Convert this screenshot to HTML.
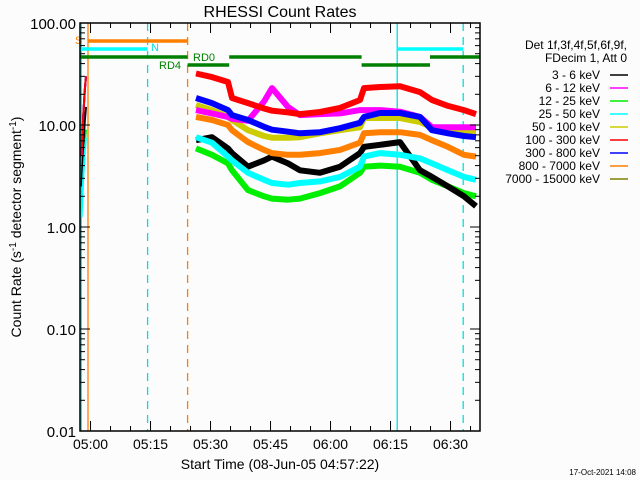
<!DOCTYPE html>
<html><head><meta charset="utf-8"><style>
html,body{margin:0;padding:0;background:#fcfcfc;}
svg{display:block;font-family:"Liberation Sans",sans-serif;}
</style></head><body>
<svg id="chart" width="640" height="480" viewBox="0 0 640 480">
<rect width="640" height="480" fill="#fcfcfc"/>
<text x="280" y="17" font-size="16" text-anchor="middle">RHESSI Count Rates</text>
<g id="marks"></g>
<g id="axes"></g>
<text x="280" y="469" font-size="14" text-anchor="middle">Start Time (08-Jun-05 04:57:22)</text>
<text transform="translate(21,227) rotate(-90)" font-size="14" text-anchor="middle">Count Rate (s<tspan dy="-5" font-size="10">-1</tspan><tspan dy="5"> detector segment</tspan><tspan dy="-5" font-size="10">-1</tspan><tspan dy="5">)</tspan></text>
<g id="legend"></g>
<text x="636" y="475" font-size="8" text-anchor="end">17-Oct-2021 14:08</text>
</svg>
<script>
const times = [29,33,37,38,42,46,48,52,55,60,65,70,71,75,80,85,88,92,96,99];
const seriesNames = ["3 - 6 keV","6 - 12 keV","12 - 25 keV","25 - 50 keV","50 - 100 keV","100 - 300 keV","300 - 800 keV","800 - 7000 keV","7000 - 15000 keV"];
const seriesColors = ["#000000","#ff00ff","#00ee00","#00ffff","#cccc00","#ff0000","#0000ff","#ff8000","#808000"];
const black = [7.1,7.6,5.9,5.3,3.9,4.5,4.9,4.2,3.6,3.4,3.9,5.3,6.1,6.4,6.8,3.6,3.1,2.5,2.0,1.6];
const magenta = [14,13,12,11.5,11,17,23,15,12.5,12.8,13,14,14,14,13.5,12,9.5,9.5,9.5,9.5];
const green = [5.9,5.1,4.2,3.6,2.3,2.0,1.9,1.85,1.9,2.15,2.5,3.4,3.9,4.0,3.9,3.4,2.9,2.5,2.15,2.0];
const cyan = [7.6,6.7,4.9,4.5,3.4,2.9,2.7,2.6,2.7,2.8,3.1,3.9,4.9,5.3,5.1,4.7,4.2,3.6,3.1,2.9];
const yellow = [15.7,14,12,11.2,8.9,7.8,7.5,7.5,7.6,8.3,8.9,9.5,11.7,11.7,11.7,10.7,9.5,8.9,8.5,8.5];
const red = [32,29.5,26.4,18.4,16.4,14.5,13.8,13.3,12.8,13.4,14.7,17.6,23,23.6,24,21,17.6,15.4,14,12.8];
const blue = [18.4,16.4,14,12.5,11.2,9.6,9,8.6,8.3,8.5,9.3,10.5,12,13.1,13.1,12,8.9,8.3,7.8,7.6];
const orange = [12,11.2,10,8.9,6.8,5.7,5.3,5.1,5.1,5.3,5.7,6.7,8.3,8.5,8.5,8,7.1,6.1,5.1,4.9];
const spikeTimes = [0.4,0.8,1.2,1.5];
const spikeValues = [5,12,22,30];
const yTickLabels = ["100.00","10.00","1.00","0.10","0.01"];
const yTickValues = [100,10,1,0.1,0.01];
const xTickLabels = ["05:00","05:15","05:30","05:45","06:00","06:15","06:30"];
const xTickMinutes = [2.633,17.633,32.633,47.633,62.633,77.633,92.633];

const NS="http://www.w3.org/2000/svg";
const X0=80,X1=480,Y0=23,Y1=431,TMAX=100;
function xs(t){return X0+(t/TMAX)*(X1-X0);}
function ys(v){return Y0+(2-Math.log10(v))*(Y1-Y0)/4;}
function mk(tag,attrs,parent){const e=document.createElementNS(NS,tag);for(const k in attrs)e.setAttribute(k,attrs[k]);parent.appendChild(e);return e;}
const marks=document.getElementById('marks'),axes=document.getElementById('axes'),legend=document.getElementById('legend');

const vls=[[0.3,"#00e0e0",""],[2.0,"#ff8000",""],[16.9,"#00e0e0","8,6"],[26.9,"#ff8000","8,6"],[79.3,"#00e0e0",""],[95.8,"#00e0e0","8,6"]];
vls.forEach(v=>{const l=mk('line',{x1:xs(v[0]),x2:xs(v[0]),y1:Y0,y2:Y1,stroke:v[1],'stroke-width':1.3,'stroke-dasharray':v[2]},marks);

});
const bars=[[2,26.9,41,"#ff8000"],[0,16.9,49,"#00ffff"],[79.3,95.8,49,"#00ffff"],[0,26.9,57,"#008000"],[37.3,70.4,57,"#008000"],[87.5,100,57,"#008000"],[26.9,37.3,65,"#008000"],[70.4,87.5,65,"#008000"]];
bars.forEach(b=>{const r=mk('line',{x1:xs(b[0]),x2:xs(b[1]),y1:b[2],y2:b[2],stroke:b[3],'stroke-width':3.5},marks);

});
[["S",75,44,"#ff8000"],["N",151,51,"#00e0e0"],["RD0",193,61,"#008000"],["RD4",159,69,"#008000"]].forEach(t=>{
const e=mk('text',{x:t[1],y:t[2],fill:t[3],'font-size':11},marks);e.textContent=t[0];

});

const all=[black,magenta,green,cyan,yellow,red,blue,orange];
const drawOrder=[2,0,3,7,4,1,6,5];
drawOrder.forEach(i=>{
 const d=all[i];const pts=times.map((t,j)=>xs(t).toFixed(1)+","+ys(d[j]).toFixed(1)).join(" ");
 const p=mk('polyline',{points:pts,fill:"none",stroke:seriesColors[i],'stroke-width':6,'stroke-linejoin':'round'},marks);
 
 
 const sp=spikeTimes.map((t,j)=>xs(t).toFixed(1)+","+ys(spikeValues[j]*(i===2?0.3:i===3?0.25:i===0?0.5:1)).toFixed(1)).join(" ");
 const s=mk('polyline',{points:sp,fill:"none",stroke:seriesColors[i],'stroke-width':2},marks);
 
 
});

const fr=mk('rect',{x:X0,y:Y0,width:X1-X0,height:Y1-Y0,fill:"none",stroke:"#000",'stroke-width':1.5},axes);


yTickValues.forEach((v,i)=>{const y=ys(v);
 mk('line',{x1:X0,x2:X0+10,y1:y,y2:y,stroke:"#000"},axes);mk('line',{x1:X1,x2:X1-10,y1:y,y2:y,stroke:"#000"},axes);
 const t=mk('text',{x:X0-4,y:y+6,'font-size':15,'text-anchor':'end'},axes);t.textContent=yTickLabels[i];
 
 
 if(i<yTickValues.length-1){for(let m=2;m<10;m++){const yy=ys(v/10*m);
  mk('line',{x1:X0,x2:X0+5,y1:yy,y2:yy,stroke:"#000"},axes);mk('line',{x1:X1,x2:X1-5,y1:yy,y2:yy,stroke:"#000"},axes);}}
});
for(let m=-2.367;m<=TMAX;m+=5){if(m<0)continue;const x=xs(m);
 const major=xTickMinutes.some(t=>Math.abs(t-m)<0.01);const L=major?10:5;
 mk('line',{x1:x,x2:x,y1:Y1,y2:Y1-L,stroke:"#000"},axes);mk('line',{x1:x,x2:x,y1:Y0,y2:Y0+L,stroke:"#000"},axes);}
xTickLabels.forEach((l,i)=>{const t=mk('text',{x:xs(xTickMinutes[i]),y:449,'font-size':14,'text-anchor':'middle'},axes);t.textContent=l;
 
 });

[["Det 1f,3f,4f,5f,6f,9f,",49],["FDecim 1, Att 0",62]].forEach(h=>{const t=mk('text',{x:627,y:h[1],'font-size':12,'text-anchor':'end'},legend);t.textContent=h[0];
 
 });
seriesNames.forEach((n,i)=>{const y=75+i*13;
 const t=mk('text',{x:600,y:y+4,'font-size':12,'text-anchor':'end'},legend);t.textContent=n;
 
 
 mk('line',{x1:610,x2:628,y1:y,y2:y,stroke:seriesColors[i],'stroke-width':1.5},legend);});
</script>
</body></html>
